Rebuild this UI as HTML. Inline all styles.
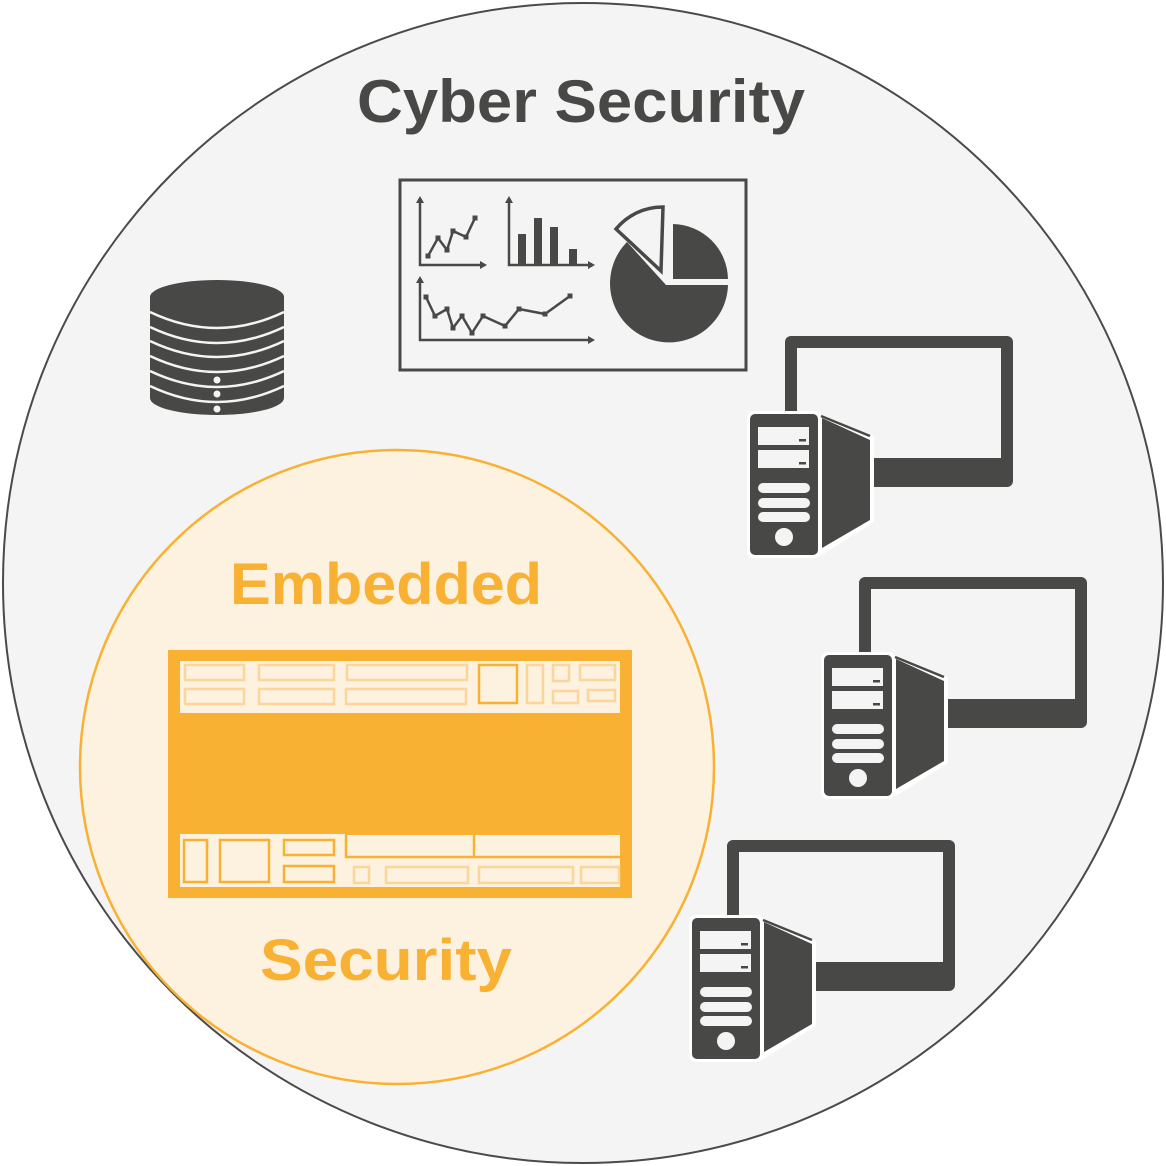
<!DOCTYPE html>
<html><head><meta charset="utf-8"><style>
html,body{margin:0;padding:0;background:#fff;}
svg{display:block}
</style></head><body>
<svg width="1166" height="1166" viewBox="0 0 1166 1166" xmlns="http://www.w3.org/2000/svg">
<defs>
<g id="pc">
  <path d="M791,336 H1007 a6,6 0 0 1 6,6 V481 a6,6 0 0 1 -6,6 H791 a6,6 0 0 1 -6,-6 V342 a6,6 0 0 1 6,-6 Z M797,348 V458 H1001 V348 Z" fill="#484846" fill-rule="evenodd"/>
  <rect x="747" y="411" width="74" height="147" rx="7" fill="#fff"/>
  <polygon points="820,414 874,436 874,522 820,556" fill="#fff"/>
  <rect x="750" y="414" width="68" height="141" rx="5" fill="#484846"/>
  <polygon points="822,418 870,440 870,520 822,548" fill="#484846"/>
  <line x1="821" y1="416" x2="870" y2="436" stroke="#484846" stroke-width="2.5"/>
  <rect x="758" y="427" width="51" height="18" fill="#f4f4f4"/>
  <rect x="758" y="450" width="51" height="18" fill="#f4f4f4"/>
  <rect x="799" y="439" width="7" height="2.5" fill="#484846"/>
  <rect x="799" y="462" width="7" height="2.5" fill="#484846"/>
  <rect x="758" y="483" width="52" height="10" rx="5" fill="#f4f4f4"/>
  <rect x="758" y="498" width="52" height="10" rx="5" fill="#f4f4f4"/>
  <rect x="758" y="512" width="52" height="10" rx="5" fill="#f4f4f4"/>
  <circle cx="784" cy="537" r="9" fill="#f4f4f4"/>
</g>
</defs>
<rect width="1166" height="1166" fill="#fff"/>
<circle cx="583" cy="583" r="580" fill="#f4f4f4" stroke="#4a4a4a" stroke-width="2"/>
<text x="357" y="122" textLength="448" lengthAdjust="spacingAndGlyphs" font-family="Liberation Sans, sans-serif" font-weight="bold" font-size="60" fill="#484846">Cyber Security</text>

<!-- database -->
<g>
  <path d="M150,297 A67,17 0 0 1 284,297 V398 A67,17 0 0 1 150,398 Z" fill="#484846"/>
  <g fill="none" stroke="#f4f4f4" stroke-width="2.5">
    <path d="M150,312 Q217,344 284,312"/>
    <path d="M150,327 Q217,359 284,327"/>
    <path d="M150,341 Q217,373 284,341"/>
    <path d="M150,356 Q217,388 284,356"/>
    <path d="M150,371 Q217,403 284,371"/>
    <path d="M150,386 Q217,418 284,386"/>
  </g>
  <circle cx="217" cy="380" r="3.5" fill="#f4f4f4"/>
  <circle cx="217" cy="394" r="3.5" fill="#f4f4f4"/>
  <circle cx="217" cy="409" r="3.5" fill="#f4f4f4"/>
</g>

<!-- chart board -->
<g stroke="#484846" fill="none">
  <rect x="400" y="180" width="346" height="190" stroke-width="3"/>
  <g stroke-width="2.5">
    <path d="M420,203 V265 H480"/>
    <path d="M509,203 V265 H588"/>
    <path d="M420,283 V340 H588"/>
    <polyline points="428,256 438,238 447,250 453,231 466,237 475,218"/>
    <polyline points="426,297 435,316 447,309 453,328 462,316 472,333 483,316 505,326 519,309 545,314 570,296"/>
  </g>
  <path d="M666,285 H728 A59,59 0 1 1 627,242 Z" fill="#484846" stroke="none"/>
  <path d="M673,224 A56,56 0 0 1 728,279 H673 Z" fill="#484846" stroke="none"/>
  <path d="M661,271 L663,207 A60,60 0 0 0 616,229 Z" fill="#f4f4f4" stroke-width="3.5" stroke-linejoin="miter"/>
</g>
<g fill="#484846">
  <polygon points="416,203 424,203 420,196"/><polygon points="480,261 480,269 487,265"/>
  <polygon points="505,203 513,203 509,196"/><polygon points="588,261 588,269 595,265"/>
  <polygon points="416,283 424,283 420,276"/><polygon points="588,336 588,344 595,340"/>
  <rect x="518" y="234" width="8" height="31"/><rect x="534" y="218" width="8" height="47"/>
  <rect x="550" y="227" width="8" height="38"/><rect x="569" y="249" width="8" height="16"/>
  <g transform="translate(-2.5,-2.5)">
  <rect x="428" y="256" width="5" height="5"/><rect x="438" y="238" width="5" height="5"/><rect x="447" y="250" width="5" height="5"/><rect x="453" y="231" width="5" height="5"/><rect x="466" y="237" width="5" height="5"/><rect x="475" y="218" width="5" height="5"/>
  <rect x="426" y="297" width="5" height="5"/><rect x="435" y="316" width="5" height="5"/><rect x="447" y="309" width="5" height="5"/><rect x="453" y="328" width="5" height="5"/><rect x="462" y="316" width="5" height="5"/><rect x="472" y="333" width="5" height="5"/><rect x="483" y="316" width="5" height="5"/><rect x="505" y="326" width="5" height="5"/><rect x="519" y="309" width="5" height="5"/><rect x="545" y="314" width="5" height="5"/><rect x="570" y="296" width="5" height="5"/>
  </g>
</g>

<!-- computers -->
<use href="#pc"/>
<use href="#pc" transform="translate(74,241)"/>

<!-- embedded circle -->
<circle cx="397" cy="767" r="317" fill="#fdf1e0" stroke="#f8b133" stroke-width="2.5"/>
<use href="#pc" transform="translate(-58,504)"/>
<text x="230" y="604" textLength="312" lengthAdjust="spacingAndGlyphs" font-family="Liberation Sans, sans-serif" font-weight="bold" font-size="58" fill="#f8b133">Embedded</text>
<text x="260" y="980" textLength="252" lengthAdjust="spacingAndGlyphs" font-family="Liberation Sans, sans-serif" font-weight="bold" font-size="58" fill="#f8b133">Security</text>

<!-- board -->
<rect x="168" y="650" width="464" height="248" fill="#f8b133"/>
<rect x="180" y="661" width="440" height="52" fill="#fdf1e0"/>
<rect x="180" y="834" width="165" height="53" fill="#fdf1e0"/>
<rect x="345" y="835" width="275" height="52" fill="#fdf1e0"/>
<g fill="none" stroke="#fbd59a" stroke-width="2.5">
  <rect x="185" y="665" width="59" height="15"/><rect x="185" y="689" width="59" height="15"/>
  <rect x="259" y="665" width="75" height="15"/><rect x="259" y="689" width="75" height="15"/>
  <rect x="347" y="665" width="120" height="15"/><rect x="346" y="689" width="120" height="15"/>
  <rect x="527" y="665" width="16" height="38"/><rect x="553" y="665" width="16" height="16"/>
  <rect x="580" y="665" width="35" height="15"/><rect x="553" y="691" width="25" height="12"/>
  <rect x="588" y="690" width="27" height="11"/>
  <rect x="354" y="867" width="15" height="16"/><rect x="386" y="867" width="82" height="16"/>
  <rect x="479" y="867" width="94" height="16"/><rect x="581" y="867" width="38" height="16"/>
</g>
<g fill="none" stroke="#f8b133" stroke-width="2.5">
  <rect x="479" y="665" width="38" height="38"/>
  <rect x="184" y="840" width="23" height="42"/><rect x="220" y="840" width="49" height="42"/>
  <rect x="284" y="840" width="50" height="15"/><rect x="284" y="866" width="50" height="16"/>
  <path d="M346,835 V857 H620 M474,835 V857"/>
</g>
</svg>
</body></html>
